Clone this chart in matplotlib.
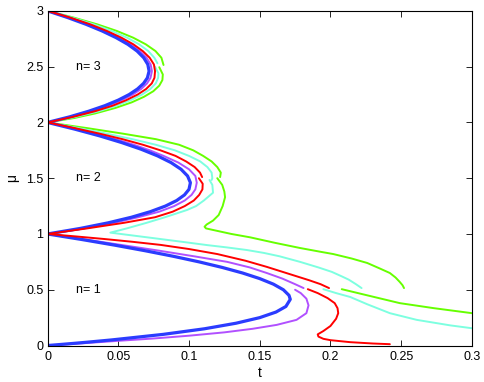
import matplotlib
matplotlib.use("Agg")
import matplotlib.pyplot as plt

plt.rcParams['font.family'] = ['Liberation Sans', 'DejaVu Sans']

# ---------------- data (t vs mu) ----------------
# blue (thick)
mu_blue_n1 = [0, 0.01, 0.02, 0.03, 0.05, 0.1, 0.15, 0.2, 0.25, 0.3, 0.35, 0.414, 0.45, 0.5, 0.55, 0.6, 0.65, 0.7, 0.75, 0.8, 0.85, 0.9, 0.95, 1.0]
t_blue_n1 = [0, 0.0098, 0.0192, 0.0282, 0.0452, 0.0818, 0.1109, 0.1333, 0.15, 0.1615, 0.1685, 0.1716, 0.1707, 0.1667, 0.1597, 0.15, 0.1379, 0.1235, 0.1071, 0.0889, 0.0689, 0.0474, 0.0244, 0]
mu_blue_n2 = [1.0, 1.05, 1.1, 1.15, 1.2, 1.25, 1.3, 1.35, 1.4, 1.46, 1.52, 1.58, 1.64, 1.7, 1.76, 1.82, 1.88, 1.94, 2.0]
t_blue_n2 = [0, 0.0232, 0.0429, 0.0593, 0.0727, 0.0833, 0.0913, 0.0968, 0.1, 0.101, 0.099, 0.0944, 0.0873, 0.0778, 0.0661, 0.0523, 0.0367, 0.0192, 0]
mu_blue_n3 = [2.0, 2.05, 2.1, 2.15, 2.2, 2.25, 2.3, 2.35, 2.4, 2.46, 2.52, 2.58, 2.64, 2.7, 2.76, 2.82, 2.88, 2.94, 3.0]
t_blue_n3 = [0, 0.0156, 0.029, 0.0405, 0.05, 0.0577, 0.0636, 0.0679, 0.0706, 0.0718, 0.0709, 0.068, 0.0633, 0.0568, 0.0485, 0.0386, 0.0272, 0.0143, 0]

# purple
mu_purple_n1a = [1.0, 0.95, 0.9, 0.85, 0.8, 0.75, 0.7, 0.65, 0.6, 0.55, 0.515]
t_purple_n1a = [0, 0.027, 0.053, 0.079, 0.1035, 0.127, 0.143, 0.155, 0.166, 0.175, 0.181]
mu_purple_n1b = [0.50, 0.47, 0.42, 0.36, 0.29, 0.23, 0.185, 0.15, 0.118, 0.088, 0.063, 0.042, 0.02, 0]
t_purple_n1b = [0.175, 0.179, 0.183, 0.1845, 0.183, 0.176, 0.162, 0.145, 0.125, 0.1, 0.075, 0.05, 0.025, 0]
mu_purple_n2 = [1.0, 1.05, 1.1, 1.15, 1.2, 1.25, 1.3, 1.35, 1.4, 1.46, 1.52, 1.58, 1.64, 1.7, 1.75, 1.8, 1.85, 1.9, 1.95, 2.0]
t_purple_n2 = [0, 0.026, 0.047, 0.064, 0.079, 0.0895, 0.097, 0.1018, 0.1045, 0.1055, 0.1045, 0.1, 0.0925, 0.082, 0.0723, 0.061, 0.048, 0.0332, 0.0172, 0]
mu_purple_n3 = [2.0, 2.05, 2.1, 2.15, 2.2, 2.25, 2.3, 2.35, 2.4, 2.46, 2.52, 2.58, 2.64, 2.7, 2.76, 2.82, 2.88, 2.94, 3.0]
t_purple_n3 = [0, 0.0168, 0.031, 0.0428, 0.0525, 0.0603, 0.0662, 0.0703, 0.0728, 0.0738, 0.0729, 0.070, 0.0653, 0.0588, 0.0504, 0.0403, 0.0286, 0.015, 0]

# red
t_red_n1a = [0, 0.02, 0.04, 0.06, 0.08, 0.1, 0.12, 0.14, 0.155, 0.165, 0.175, 0.185, 0.193, 0.199]
mu_red_n1a = [1.0, 0.978, 0.955, 0.93, 0.902, 0.865, 0.82, 0.76, 0.705, 0.665, 0.625, 0.585, 0.55, 0.515]
mu_red_n1b = [0.505, 0.47, 0.425, 0.38, 0.335, 0.29, 0.24, 0.175, 0.13, 0.10, 0.08, 0.06, 0.048, 0.03, 0.018, 0.012]
t_red_n1b = [0.184, 0.191, 0.198, 0.203, 0.205, 0.2055, 0.204, 0.2, 0.195, 0.191, 0.1915, 0.195, 0.2, 0.214, 0.23, 0.242]
mu_red_n2a = [1.0, 1.05, 1.1, 1.15, 1.2, 1.25, 1.3, 1.35, 1.4, 1.45, 1.5]
t_red_n2a = [0, 0.028, 0.054, 0.076, 0.0885, 0.097, 0.1034, 0.1072, 0.1095, 0.1097, 0.107]
mu_red_n2b = [1.51, 1.55, 1.6, 1.65, 1.7, 1.75, 1.8, 1.85, 1.9, 1.95, 2.0]
t_red_n2b = [0.1093, 0.1078, 0.104, 0.098, 0.0905, 0.0798, 0.0674, 0.053, 0.0366, 0.019, 0]
mu_red_n3 = [2.0, 2.05, 2.1, 2.15, 2.2, 2.25, 2.3, 2.35, 2.4, 2.46, 2.52, 2.58, 2.64, 2.7, 2.76, 2.82, 2.88, 2.94, 3.0]
t_red_n3 = [0, 0.018, 0.0335, 0.046, 0.0557, 0.0637, 0.0697, 0.0737, 0.0756, 0.076, 0.0752, 0.0722, 0.0673, 0.0607, 0.0522, 0.042, 0.0301, 0.016, 0]

# cyan
mu_cyan_a = [2.0, 1.95, 1.9, 1.85, 1.8, 1.75, 1.7, 1.65, 1.6, 1.55, 1.5, 1.484]
t_cyan_a = [0, 0.0216, 0.0415, 0.06, 0.0765, 0.09, 0.1, 0.108, 0.113, 0.116, 0.1165, 0.116]
mu_cyan_b = [1.484, 1.44, 1.37, 1.3, 1.25, 1.215, 1.15, 1.1, 1.05, 1.012, 0.99, 0.965, 0.93, 0.90, 0.88, 0.856, 0.83, 0.8, 0.75, 0.70, 0.66, 0.62, 0.59, 0.55, 0.515]
t_cyan_b = [0.1145, 0.1165, 0.117, 0.1105, 0.105, 0.0986, 0.083, 0.07, 0.056, 0.0444, 0.058, 0.0735, 0.095, 0.113, 0.1265, 0.141, 0.153, 0.164, 0.1785, 0.1915, 0.201, 0.208, 0.213, 0.218, 0.222]
mu_cyan_c = [0.505, 0.47, 0.435, 0.37, 0.29, 0.23, 0.18, 0.155]
t_cyan_c = [0.195, 0.204, 0.214, 0.226, 0.242, 0.261, 0.285, 0.30]
mu_cyan_n3a = [3.0, 2.94, 2.88, 2.82, 2.76, 2.7, 2.64, 2.58, 2.53]
t_cyan_n3a = [0, 0.0172, 0.0325, 0.0455, 0.0562, 0.0648, 0.0712, 0.0755, 0.0777]
mu_cyan_n3b = [2.50, 2.44, 2.4, 2.35, 2.3, 2.25, 2.2, 2.15, 2.1, 2.05, 2.0]
t_cyan_n3b = [0.076, 0.0784, 0.0782, 0.0765, 0.0727, 0.0668, 0.0588, 0.0485, 0.0362, 0.0198, 0]

# green
mu_green_a = [2.0, 1.95, 1.9, 1.85, 1.8, 1.75, 1.7, 1.65, 1.6, 1.55, 1.51]
t_green_a = [0, 0.0275, 0.053, 0.0766, 0.093, 0.103, 0.11, 0.116, 0.12, 0.1225, 0.122]
mu_green_b = [1.50, 1.44, 1.38, 1.33, 1.25, 1.17, 1.12, 1.085, 1.065, 1.05, 1.036, 1.0, 0.97, 0.92, 0.874, 0.841, 0.82, 0.78, 0.74, 0.69, 0.65, 0.61, 0.57, 0.54, 0.515]
t_green_b = [0.12, 0.1235, 0.125, 0.1255, 0.1238, 0.121, 0.117, 0.1125, 0.111, 0.112, 0.117, 0.13, 0.1432, 0.161, 0.1786, 0.1927, 0.202, 0.215, 0.226, 0.235, 0.242, 0.246, 0.249, 0.251, 0.252]
mu_green_c = [0.505, 0.45, 0.38, 0.335, 0.29]
t_green_c = [0.208, 0.226, 0.249, 0.273, 0.30]
mu_green_n3a = [3.0, 2.94, 2.88, 2.82, 2.76, 2.7, 2.64, 2.58, 2.515]
t_green_n3a = [0, 0.0185, 0.035, 0.049, 0.0605, 0.0695, 0.0763, 0.0805, 0.082]
mu_green_n3b = [2.495, 2.43, 2.38, 2.33, 2.28, 2.23, 2.18, 2.13, 2.08, 2.04, 2.0]
t_green_n3b = [0.079, 0.0815, 0.0812, 0.079, 0.0748, 0.0682, 0.0595, 0.048, 0.0335, 0.019, 0]

labels = ["n= 1", "n= 2", "n= 3"]
label_mu = [0.5, 1.5, 2.5]
xticks = [0, 0.05, 0.1, 0.15, 0.2, 0.25, 0.3]
xticklabels = ["0", "0.05", "0.1", "0.15", "0.2", "0.25", "0.3"]
yticks = [0, 0.5, 1, 1.5, 2, 2.5, 3]
yticklabels = ["0", "0.5", "1", "1.5", "2", "2.5", "3"]

# ---------------- drawing ----------------
C_BLUE = '#2b3cff'
C_PURPLE = '#b150ff'
C_RED = '#ff0000'
C_CYAN = '#7dffe0'
C_GREEN = '#66ff00'

fig = plt.figure(figsize=(4.85, 3.82), dpi=100)
ax = fig.add_axes([0.098, 0.0955, 0.875, 0.876])

lw_thin = 1.4
for t, m in [(t_green_a, mu_green_a), (t_green_b, mu_green_b), (t_green_c, mu_green_c),
             (t_green_n3a, mu_green_n3a), (t_green_n3b, mu_green_n3b)]:
    ax.plot(t, m, color=C_GREEN, lw=lw_thin, solid_capstyle='round')
for t, m in [(t_cyan_a, mu_cyan_a), (t_cyan_b, mu_cyan_b), (t_cyan_c, mu_cyan_c),
             (t_cyan_n3a, mu_cyan_n3a), (t_cyan_n3b, mu_cyan_n3b)]:
    ax.plot(t, m, color=C_CYAN, lw=lw_thin, solid_capstyle='round')
for t, m in [(t_purple_n1a, mu_purple_n1a), (t_purple_n1b, mu_purple_n1b),
             (t_purple_n2, mu_purple_n2), (t_purple_n3, mu_purple_n3)]:
    ax.plot(t, m, color=C_PURPLE, lw=lw_thin, solid_capstyle='round')
for t, m in [(t_blue_n1, mu_blue_n1), (t_blue_n2, mu_blue_n2), (t_blue_n3, mu_blue_n3)]:
    ax.plot(t, m, color=C_BLUE, lw=2.3, solid_capstyle='round')
for t, m in [(t_red_n1a, mu_red_n1a), (t_red_n1b, mu_red_n1b), (t_red_n2a, mu_red_n2a),
             (t_red_n2b, mu_red_n2b), (t_red_n3, mu_red_n3)]:
    ax.plot(t, m, color=C_RED, lw=lw_thin, solid_capstyle='round')

for lab, m in zip(labels, label_mu):
    ax.text(0.02, m, lab, fontsize=9, ha='left', va='center')

ax.set_xlim(0, 0.3)
ax.set_ylim(0, 3)
ax.set_xticks(xticks)
ax.set_xticklabels(xticklabels)
ax.set_yticks(yticks)
ax.set_yticklabels(yticklabels)
ax.tick_params(direction='in', top=True, right=True, length=4, width=0.6,
               labelsize=9, pad=3)
ax.tick_params(axis='x', pad=4)
for s in ax.spines.values():
    s.set_linewidth(0.8)
ax.set_xlabel('t', fontsize=10, labelpad=2)
ax.set_ylabel('μ', fontsize=10, labelpad=5)

fig.savefig('out.png', dpi=100)
